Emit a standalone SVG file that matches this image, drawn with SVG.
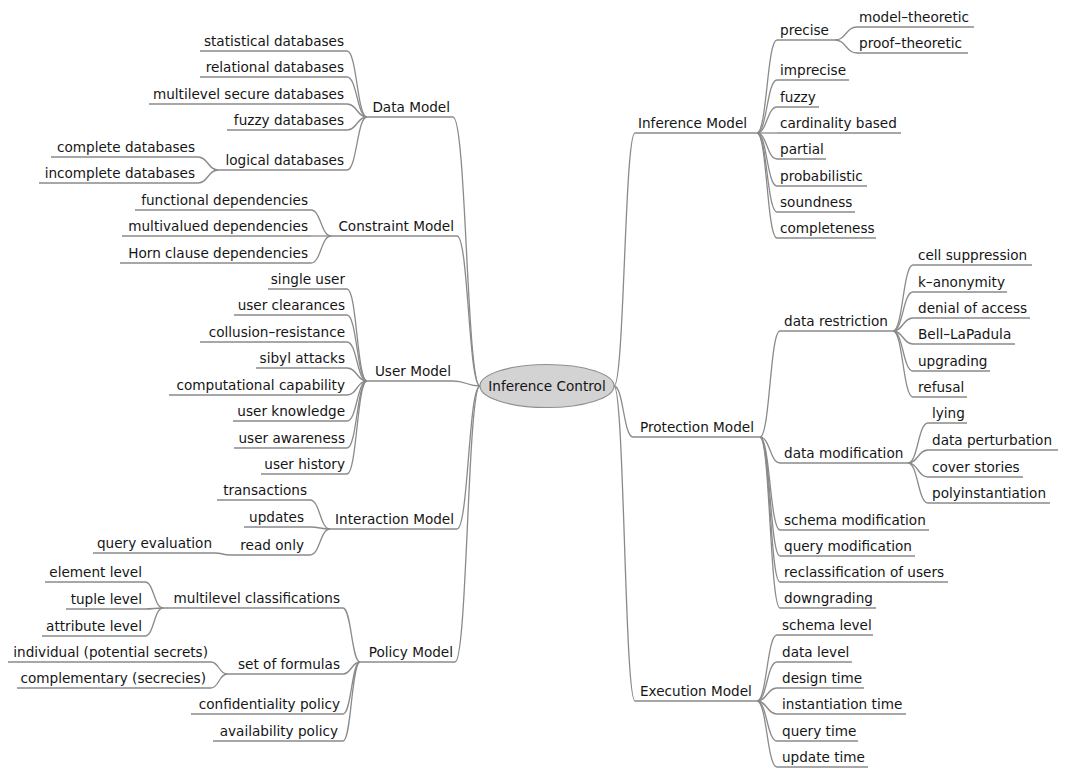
<svg xmlns="http://www.w3.org/2000/svg" width="1067" height="769" viewBox="0 0 1067 769">
<style>
text{font-family:"DejaVu Sans","Noto Sans",sans-serif;font-size:13.6px;fill:#151515}
.l{text-anchor:end}
.r{text-anchor:start}
.u{stroke:#8a8a8a;stroke-width:1.3;fill:none}
#connectors path{stroke:#8a8a8a;stroke-width:1.3;fill:none}
</style>
<rect width="1067" height="769" fill="#ffffff"/>
<g id="connectors">
<path d="M453 117C466.5 117 466.5 386 480 386"/>
<path d="M457 236C468.5 236 468.5 386 480 386"/>
<path d="M453 381C466.5 381 466.5 386 480 386"/>
<path d="M457 529C468.5 529 468.5 386 480 386"/>
<path d="M455 662C467.5 662 467.5 386 480 386"/>
<path d="M614 386C624.5 386 624.5 133 635 133"/>
<path d="M614 386C623.5 386 623.5 437 633 437"/>
<path d="M614 386C624.5 386 624.5 701 635 701"/>
<path d="M347 51C357 51 357 117 367 117"/>
<path d="M347 77C357 77 357 117 367 117"/>
<path d="M347 104C357 104 357 117 367 117"/>
<path d="M347 130C357 130 357 117 367 117"/>
<path d="M347 170C357 170 357 117 367 117"/>
<path d="M198 157C208 157 208 170 218 170"/>
<path d="M198 183C208 183 208 170 218 170"/>
<path d="M311 210C321 210 321 236 331 236"/>
<path d="M311 236H331"/>
<path d="M311 263C321 263 321 236 331 236"/>
<path d="M347 289C357 289 357 381 367 381"/>
<path d="M347 315C357 315 357 381 367 381"/>
<path d="M347 342C357 342 357 381 367 381"/>
<path d="M347 368C357 368 357 381 367 381"/>
<path d="M347 395C357 395 357 381 367 381"/>
<path d="M347 421C357 421 357 381 367 381"/>
<path d="M347 448C357 448 357 381 367 381"/>
<path d="M347 474C357 474 357 381 367 381"/>
<path d="M310 500C320 500 320 529 330 529"/>
<path d="M310 527C320 527 320 529 330 529"/>
<path d="M310 555C320 555 320 529 330 529"/>
<path d="M215 553C222.5 553 222.5 555 230 555"/>
<path d="M343 608C351.5 608 351.5 662 360 662"/>
<path d="M343 674C351.5 674 351.5 662 360 662"/>
<path d="M343 714C351.5 714 351.5 662 360 662"/>
<path d="M343 741C351.5 741 351.5 662 360 662"/>
<path d="M145 582C154 582 154 608 163 608"/>
<path d="M145 609C154 609 154 608 163 608"/>
<path d="M145 636C154 636 154 608 163 608"/>
<path d="M211 662C219 662 219 674 227 674"/>
<path d="M211 688C219 688 219 674 227 674"/>
<path d="M757 133C767 133 767 40 777 40"/>
<path d="M757 133C767 133 767 80 777 80"/>
<path d="M757 133C767 133 767 107 777 107"/>
<path d="M757 133H777"/>
<path d="M757 133C767 133 767 159 777 159"/>
<path d="M757 133C767 133 767 186 777 186"/>
<path d="M757 133C767 133 767 212 777 212"/>
<path d="M757 133C767 133 767 238 777 238"/>
<path d="M835 40C846 40 846 27 857 27"/>
<path d="M835 40C846 40 846 53 857 53"/>
<path d="M760 437C770 437 770 331 780 331"/>
<path d="M760 437C770 437 770 463 780 463"/>
<path d="M760 437C770 437 770 530 780 530"/>
<path d="M760 437C770 437 770 556 780 556"/>
<path d="M760 437C770 437 770 582 780 582"/>
<path d="M760 437C770 437 770 608 780 608"/>
<path d="M893 331C903 331 903 265 913 265"/>
<path d="M893 331C903 331 903 292 913 292"/>
<path d="M893 331C903 331 903 318 913 318"/>
<path d="M893 331C903 331 903 344 913 344"/>
<path d="M893 331C903 331 903 371 913 371"/>
<path d="M893 331C903 331 903 397 913 397"/>
<path d="M908 463C918 463 918 423 928 423"/>
<path d="M908 463C918 463 918 450 928 450"/>
<path d="M908 463C918 463 918 477 928 477"/>
<path d="M908 463C918 463 918 503 928 503"/>
<path d="M757 701C767 701 767 635 777 635"/>
<path d="M757 701C767 701 767 662 777 662"/>
<path d="M757 701C767 701 767 688 777 688"/>
<path d="M757 701C767 701 767 714 777 714"/>
<path d="M757 701C767 701 767 741 777 741"/>
<path d="M757 701C767 701 767 767 777 767"/>
</g>
<g id="inference-control"><ellipse cx="547" cy="386" rx="67" ry="21.5" fill="#d3d3d3" stroke="#8f8f8f" stroke-width="1.2"/><text x="547" y="391" text-anchor="middle">Inference Control</text></g>
<g id="data-model"><line class="u" x1="367" y1="117" x2="453" y2="117"/><text class="l" x="450" y="112">Data Model</text></g>
<g id="statistical-databases"><line class="u" x1="200" y1="51" x2="347" y2="51"/><text class="l" x="344" y="46">statistical databases</text></g>
<g id="relational-databases"><line class="u" x1="200" y1="77" x2="347" y2="77"/><text class="l" x="344" y="72">relational databases</text></g>
<g id="multilevel-secure-databases"><line class="u" x1="149" y1="104" x2="347" y2="104"/><text class="l" x="344" y="99">multilevel secure databases</text></g>
<g id="fuzzy-databases"><line class="u" x1="227" y1="130" x2="347" y2="130"/><text class="l" x="344" y="125">fuzzy databases</text></g>
<g id="logical-databases"><line class="u" x1="218" y1="170" x2="347" y2="170"/><text class="l" x="344" y="165">logical databases</text></g>
<g id="complete-databases"><line class="u" x1="51" y1="157" x2="198" y2="157"/><text class="l" x="195" y="152">complete databases</text></g>
<g id="incomplete-databases"><line class="u" x1="39" y1="183" x2="198" y2="183"/><text class="l" x="195" y="178">incomplete databases</text></g>
<g id="constraint-model"><line class="u" x1="331" y1="236" x2="457" y2="236"/><text class="l" x="454" y="231">Constraint Model</text></g>
<g id="functional-dependencies"><line class="u" x1="135" y1="210" x2="311" y2="210"/><text class="l" x="308" y="205">functional dependencies</text></g>
<g id="multivalued-dependencies"><line class="u" x1="122" y1="236" x2="311" y2="236"/><text class="l" x="308" y="231">multivalued dependencies</text></g>
<g id="horn-clause-dependencies"><line class="u" x1="120" y1="263" x2="311" y2="263"/><text class="l" x="308" y="258">Horn clause dependencies</text></g>
<g id="user-model"><line class="u" x1="367" y1="381" x2="453" y2="381"/><text class="l" x="451" y="376">User Model</text></g>
<g id="single-user"><line class="u" x1="268" y1="289" x2="347" y2="289"/><text class="l" x="345" y="284">single user</text></g>
<g id="user-clearances"><line class="u" x1="234" y1="315" x2="347" y2="315"/><text class="l" x="345" y="310">user clearances</text></g>
<g id="collusion-resistance"><line class="u" x1="200" y1="342" x2="347" y2="342"/><text class="l" x="345" y="337">collusion–resistance</text></g>
<g id="sibyl-attacks"><line class="u" x1="256" y1="368" x2="347" y2="368"/><text class="l" x="345" y="363">sibyl attacks</text></g>
<g id="computational-capability"><line class="u" x1="169" y1="395" x2="347" y2="395"/><text class="l" x="345" y="390">computational capability</text></g>
<g id="user-knowledge"><line class="u" x1="233" y1="421" x2="347" y2="421"/><text class="l" x="345" y="416">user knowledge</text></g>
<g id="user-awareness"><line class="u" x1="234" y1="448" x2="347" y2="448"/><text class="l" x="345" y="443">user awareness</text></g>
<g id="user-history"><line class="u" x1="261" y1="474" x2="347" y2="474"/><text class="l" x="345" y="469">user history</text></g>
<g id="interaction-model"><line class="u" x1="330" y1="529" x2="457" y2="529"/><text class="l" x="454" y="524">Interaction Model</text></g>
<g id="transactions"><line class="u" x1="217" y1="500" x2="310" y2="500"/><text class="l" x="307" y="495">transactions</text></g>
<g id="updates"><line class="u" x1="244" y1="527" x2="310" y2="527"/><text class="l" x="304" y="522">updates</text></g>
<g id="read-only"><line class="u" x1="230" y1="555" x2="310" y2="555"/><text class="l" x="304" y="550">read only</text></g>
<g id="query-evaluation"><line class="u" x1="93" y1="553" x2="215" y2="553"/><text class="l" x="212" y="548">query evaluation</text></g>
<g id="policy-model"><line class="u" x1="360" y1="662" x2="455" y2="662"/><text class="l" x="453" y="657">Policy Model</text></g>
<g id="multilevel-classifications"><line class="u" x1="163" y1="608" x2="343" y2="608"/><text class="l" x="340" y="603">multilevel classifications</text></g>
<g id="element-level"><line class="u" x1="45" y1="582" x2="145" y2="582"/><text class="l" x="142" y="577">element level</text></g>
<g id="tuple-level"><line class="u" x1="66" y1="609" x2="145" y2="609"/><text class="l" x="142" y="604">tuple level</text></g>
<g id="attribute-level"><line class="u" x1="42" y1="636" x2="145" y2="636"/><text class="l" x="142" y="631">attribute level</text></g>
<g id="set-of-formulas"><line class="u" x1="227" y1="674" x2="343" y2="674"/><text class="l" x="340" y="669">set of formulas</text></g>
<g id="individual"><line class="u" x1="8" y1="662" x2="211" y2="662"/><text class="l" x="208" y="657">individual (potential secrets)</text></g>
<g id="complementary"><line class="u" x1="17" y1="688" x2="211" y2="688"/><text class="l" x="206" y="683">complementary (secrecies)</text></g>
<g id="confidentiality-policy"><line class="u" x1="191" y1="714" x2="343" y2="714"/><text class="l" x="340" y="709">confidentiality policy</text></g>
<g id="availability-policy"><line class="u" x1="213" y1="741" x2="343" y2="741"/><text class="l" x="338" y="736">availability policy</text></g>
<g id="inference-model"><line class="u" x1="635" y1="133" x2="757" y2="133"/><text class="r" x="638" y="128">Inference Model</text></g>
<g id="precise"><line class="u" x1="777" y1="40" x2="835" y2="40"/><text class="r" x="780" y="35">precise</text></g>
<g id="model-theoretic"><line class="u" x1="857" y1="27" x2="974" y2="27"/><text class="r" x="859" y="22">model–theoretic</text></g>
<g id="proof-theoretic"><line class="u" x1="857" y1="53" x2="968" y2="53"/><text class="r" x="859" y="48">proof–theoretic</text></g>
<g id="imprecise"><line class="u" x1="777" y1="80" x2="849" y2="80"/><text class="r" x="780" y="75">imprecise</text></g>
<g id="fuzzy"><line class="u" x1="777" y1="107" x2="819" y2="107"/><text class="r" x="780" y="102">fuzzy</text></g>
<g id="cardinality-based"><line class="u" x1="777" y1="133" x2="901" y2="133"/><text class="r" x="780" y="128">cardinality based</text></g>
<g id="partial"><line class="u" x1="777" y1="159" x2="826" y2="159"/><text class="r" x="780" y="154">partial</text></g>
<g id="probabilistic"><line class="u" x1="777" y1="186" x2="867" y2="186"/><text class="r" x="780" y="181">probabilistic</text></g>
<g id="soundness"><line class="u" x1="777" y1="212" x2="855" y2="212"/><text class="r" x="780" y="207">soundness</text></g>
<g id="completeness"><line class="u" x1="777" y1="238" x2="876" y2="238"/><text class="r" x="780" y="233">completeness</text></g>
<g id="protection-model"><line class="u" x1="633" y1="437" x2="760" y2="437"/><text class="r" x="640" y="432">Protection Model</text></g>
<g id="data-restriction"><line class="u" x1="780" y1="331" x2="893" y2="331"/><text class="r" x="784" y="326">data restriction</text></g>
<g id="cell-suppression"><line class="u" x1="913" y1="265" x2="1032" y2="265"/><text class="r" x="918" y="260">cell suppression</text></g>
<g id="k-anonymity"><line class="u" x1="913" y1="292" x2="1007" y2="292"/><text class="r" x="918" y="287">k–anonymity</text></g>
<g id="denial-of-access"><line class="u" x1="913" y1="318" x2="1030" y2="318"/><text class="r" x="918" y="313">denial of access</text></g>
<g id="bell-lapadula"><line class="u" x1="913" y1="344" x2="1015" y2="344"/><text class="r" x="918" y="339">Bell–LaPadula</text></g>
<g id="upgrading"><line class="u" x1="913" y1="371" x2="990" y2="371"/><text class="r" x="918" y="366">upgrading</text></g>
<g id="refusal"><line class="u" x1="913" y1="397" x2="967" y2="397"/><text class="r" x="918" y="392">refusal</text></g>
<g id="data-modification"><line class="u" x1="780" y1="463" x2="908" y2="463"/><text class="r" x="784" y="458">data modification</text></g>
<g id="lying"><line class="u" x1="928" y1="423" x2="967" y2="423"/><text class="r" x="932" y="418">lying</text></g>
<g id="data-perturbation"><line class="u" x1="928" y1="450" x2="1058" y2="450"/><text class="r" x="932" y="445">data perturbation</text></g>
<g id="cover-stories"><line class="u" x1="928" y1="477" x2="1023" y2="477"/><text class="r" x="932" y="472">cover stories</text></g>
<g id="polyinstantiation"><line class="u" x1="928" y1="503" x2="1050" y2="503"/><text class="r" x="932" y="498">polyinstantiation</text></g>
<g id="schema-modification"><line class="u" x1="780" y1="530" x2="929" y2="530"/><text class="r" x="784" y="525">schema modification</text></g>
<g id="query-modification"><line class="u" x1="780" y1="556" x2="915" y2="556"/><text class="r" x="784" y="551">query modification</text></g>
<g id="reclassification-of-users"><line class="u" x1="780" y1="582" x2="948" y2="582"/><text class="r" x="784" y="577">reclassification of users</text></g>
<g id="downgrading"><line class="u" x1="780" y1="608" x2="876" y2="608"/><text class="r" x="784" y="603">downgrading</text></g>
<g id="execution-model"><line class="u" x1="635" y1="701" x2="757" y2="701"/><text class="r" x="640" y="696">Execution Model</text></g>
<g id="schema-level"><line class="u" x1="777" y1="635" x2="873" y2="635"/><text class="r" x="782" y="630">schema level</text></g>
<g id="data-level"><line class="u" x1="777" y1="662" x2="852" y2="662"/><text class="r" x="782" y="657">data level</text></g>
<g id="design-time"><line class="u" x1="777" y1="688" x2="864" y2="688"/><text class="r" x="782" y="683">design time</text></g>
<g id="instantiation-time"><line class="u" x1="777" y1="714" x2="906" y2="714"/><text class="r" x="782" y="709">instantiation time</text></g>
<g id="query-time"><line class="u" x1="777" y1="741" x2="858" y2="741"/><text class="r" x="782" y="736">query time</text></g>
<g id="update-time"><line class="u" x1="777" y1="767" x2="868" y2="767"/><text class="r" x="782" y="762">update time</text></g>
</svg>
